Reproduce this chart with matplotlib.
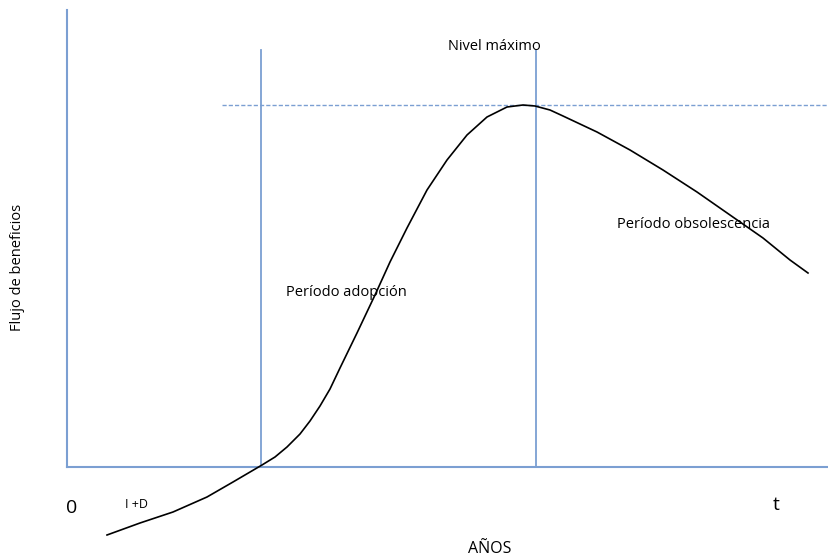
import numpy as np
import matplotlib
matplotlib.use("Agg")
import matplotlib.pyplot as plt

# curve of benefit flow over the years (origin at axis crossing)
years = [40, 73, 106, 140, 166, 195, 208, 220, 233, 243, 253, 263, 273, 290, 308, 323,
         340, 360, 380, 400, 420, 440, 456, 468, 483, 496, 530, 563, 596, 630, 663,
         696, 723, 741]
benefit = [-68, -56, -45, -30, -15, 2, 10, 20, 33, 46, 61, 78, 99, 134, 172, 205,
           239, 277, 307, 332, 350, 360, 362, 361, 357, 351, 335, 317, 297, 275, 252,
           229, 207, 194]

x_adopt = 194       # start of adoption period
x_peak = 469        # maximum level
peak_level = 362
x_end = 762
y_top = 457

blue = "#7b9fd2"

fig = plt.figure(figsize=(8.29, 5.59), dpi=100)
ax = fig.add_axes([0, 0, 1, 1])
ax.set_xlim(-67, 762)
ax.set_ylim(-92, 467)
ax.axis("off")

# axes
ax.plot([0, 0], [0, y_top], color=blue, lw=1.5)
ax.plot([0, x_end], [0, 0], color=blue, lw=1.5)

# period boundaries
ax.plot([x_adopt, x_adopt], [0, 417], color=blue, lw=1.3)
ax.plot([x_peak, x_peak], [0, 417], color=blue, lw=1.3)
ax.plot([155, x_end], [peak_level, peak_level], color=blue, lw=1, ls=(0, (3, 1.5)))

ax.plot(years, benefit, color="black", lw=1.2)

font = "Open Sans"
ax.text(381, 420, "Nivel máximo", fontsize=10.5, family=font, va="center", ha="left")
ax.text(219, 175, "Período adopción", fontsize=10.5, family=font, va="center", ha="left")
ax.text(550, 243, "Período obsolescencia", fontsize=10.5, family=font, va="center", ha="left")
ax.text(-49, 200, "Flujo de beneficios", fontsize=10.5, family=font, rotation=90,
        va="center", ha="center")
ax.text(5, -41, "0", fontsize=14, family=font, va="center", ha="center")
ax.text(58, -38, "I +D", fontsize=9, family=font, va="center", ha="left")
ax.text(709, -38, "t", fontsize=14, family=font, va="center", ha="center")
ax.text(423, -82, "AÑOS", fontsize=11.5, family=font, va="center", ha="center")

fig.savefig("out.png", dpi=100)
